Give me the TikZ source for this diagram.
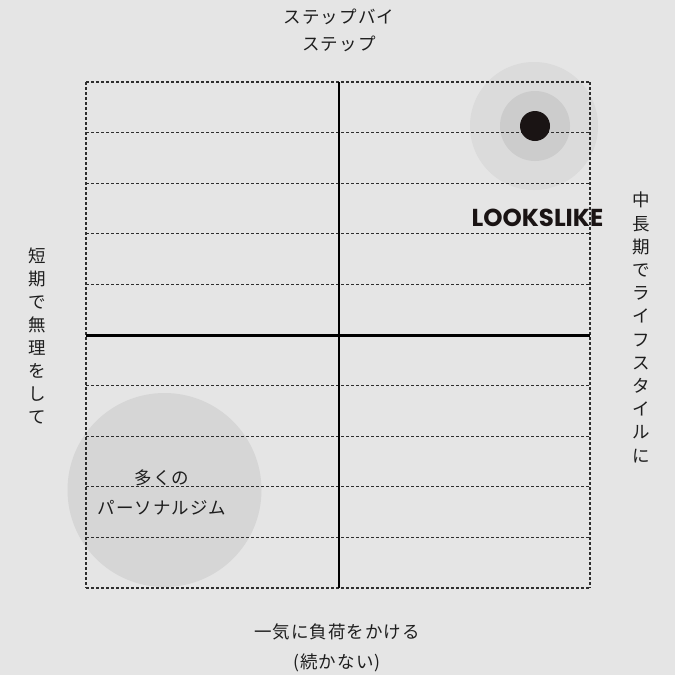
\documentclass[tikz,border=0pt]{standalone}
\usepackage{fontspec}
\setmainfont{Noto Sans CJK JP}
\newfontfamily\lkfont{Poppins}
\definecolor{bg}{HTML}{E5E5E5}
\definecolor{haloA}{HTML}{DBDBDB}
\definecolor{haloB}{HTML}{CCCCCC}
\definecolor{bigc}{HTML}{D6D6D6}
\definecolor{dotc}{HTML}{1A1414}
\definecolor{gridc}{HTML}{2E2E2E}
\definecolor{txt}{HTML}{1E1E1E}
\tikzset{
  gridline/.style={draw=gridc, line width=1.1pt, dash pattern=on 3pt off 2pt},
  axisline/.style={draw=black, line width=2.4pt},
  jp/.style={text=txt, inner sep=0pt, align=center},
}
\begin{document}
\begin{tikzpicture}[x=1pt,y=-1pt]
\useasboundingbox (0,0) rectangle (675,675);
\fill[bg] (0,0) rectangle (675,675);
% circles under the grid
\fill[haloA] (534,126) circle (64pt);
\fill[haloB] (535,126) circle (35pt);
\fill[bigc] (164.5,490) circle (97pt);
% grid
\foreach \i in {0,1,2,3,4,6,7,8,9,10} {
  \draw[gridline] (86,{82+50.6*\i}) -- (590,{82+50.6*\i});
}
\draw[gridline] (86,82) -- (86,588);
\draw[gridline] (590,82) -- (590,588);
% axes
\coordinate (top) at (339,82);
\coordinate (bottom) at (339,588);
\coordinate (left) at (86,335.5);
\coordinate (right) at (590,335.5);
\draw[axisline] (top) -- (bottom);
\draw[axisline] (left) -- (right);
% dot
\fill[dotc] (535,126) circle (15pt);
% labels
\node[jp, font={\fontsize{17.5}{27}\selectfont\addfontfeatures{LetterSpace=6}}] (toplabel) at (339,30.5) {ステップバイ\\ステップ};
\node[jp, font={\fontsize{17.5}{30}\selectfont\addfontfeatures{LetterSpace=6}}] (bottomlabel) at (337,648) {一気に負荷をかける\\(続かない)};
\node[jp, font={\fontsize{17.5}{23.1}\selectfont}] (leftlabel) at (37,336) {短\\期\\で\\無\\理\\を\\し\\て};
\node[jp, font={\fontsize{17.5}{23.2}\selectfont}] (rightlabel) at (641,327.5) {中\\長\\期\\で\\ラ\\イ\\フ\\ス\\タ\\イ\\ル\\に};
\node[jp, font={\fontsize{17.5}{30}\selectfont\addfontfeatures{LetterSpace=6}}] (gymlabel) at (162,492) {多くの\\パーソナルジム};
\node[text=dotc, inner sep=0pt, font={\lkfont\bfseries\fontsize{24.5}{24}\selectfont}] (brand) at (537.5,218) {LOOKSLIKE};
\end{tikzpicture}
\end{document}
